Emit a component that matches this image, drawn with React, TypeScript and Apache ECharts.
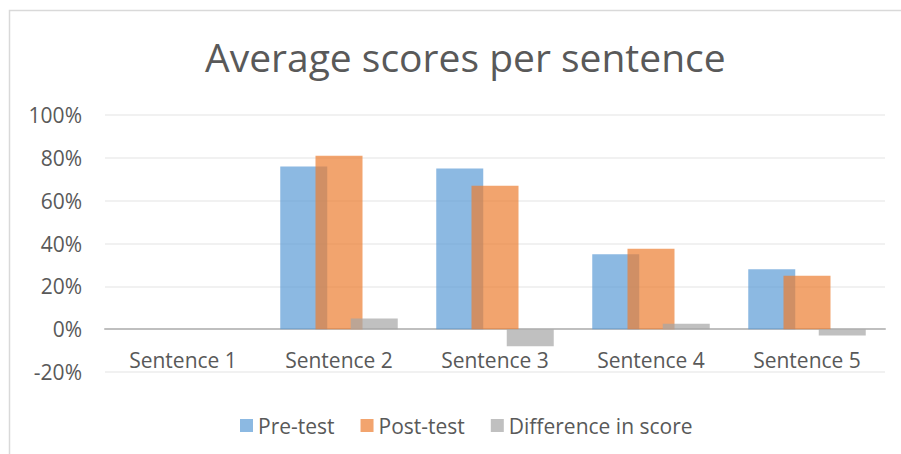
import React, { useEffect, useRef } from "react";
import * as echarts from "echarts";

const categories = ["Sentence 1", "Sentence 2", "Sentence 3", "Sentence 4", "Sentence 5"];
const preTest = [0, 76, 75, 35, 28];
const postTest = [0, 81, 67, 37.5, 25];
const difference = [0, 5, -8, 2.5, -3];
const yTicks = { min: -20, max: 100, interval: 20 };

const FONT = "'Open Sans', 'Noto Sans', sans-serif";
const TEXT = "#595959";

export default function App() {
  const ref = useRef<HTMLDivElement>(null);
  useEffect(() => {
    if (!ref.current) return;
    const chart = echarts.init(ref.current, null, { renderer: "svg" });
    chart.setOption({
      animation: false,
      backgroundColor: "#ffffff",
      title: {
        text: "Average scores per sentence",
        left: 200,
        top: 32,
        textStyle: { fontFamily: FONT, fontSize: 39, fontWeight: "normal", color: TEXT },
      },
      graphic: [
        {
          type: "rect",
          shape: { x: 9.5, y: 10.5, width: 1000, height: 1000 },
          style: { fill: "none", stroke: "#d9d9d9", lineWidth: 1.5 },
          silent: true,
        },
      ],
      legend: {
        left: 235,
        top: 410,
        icon: "rect",
        itemWidth: 13,
        itemHeight: 13,
        itemGap: 26,
        textStyle: { fontFamily: FONT, fontSize: 21, color: TEXT },
        data: ["Pre-test", "Post-test", "Difference in score"],
      },
      grid: { left: 105, right: 16, top: 115, bottom: 82, containLabel: false },
      xAxis: {
        type: "category",
        data: categories,
        axisLine: { onZero: true, lineStyle: { color: "#BFBFBF", width: 2 } },
        axisTick: { show: false },
        axisLabel: { fontFamily: FONT, fontSize: 21, color: TEXT, margin: -23 },
      },
      yAxis: {
        type: "value",
        min: yTicks.min,
        max: yTicks.max,
        interval: yTicks.interval,
        axisLine: { show: false },
        axisTick: { show: false },
        splitLine: { lineStyle: { color: "#EDEDED", width: 1.5 } },
        axisLabel: {
          fontFamily: FONT,
          fontSize: 21,
          color: TEXT,
          margin: 23,
          formatter: (v: number) => `${v}%`,
        },
      },
      series: [
        {
          name: "Pre-test",
          type: "bar",
          data: preTest,
          barWidth: 47,
          barGap: "-25%",
          itemStyle: { color: "rgba(91,155,213,0.7)" },
        },
        {
          name: "Post-test",
          type: "bar",
          data: postTest,
          barWidth: 47,
          barGap: "-25%",
          itemStyle: { color: "rgba(237,125,49,0.7)" },
        },
        {
          name: "Difference in score",
          type: "bar",
          data: difference,
          barWidth: 47,
          barGap: "-25%",
          itemStyle: { color: "rgba(165,165,165,0.7)" },
        },
      ],
    });
    return () => chart.dispose();
  }, []);
  return (
    <div
      ref={ref}
      style={{ position: "fixed", left: 0, top: 0, width: 901, height: 454 }}
    />
  );
}
